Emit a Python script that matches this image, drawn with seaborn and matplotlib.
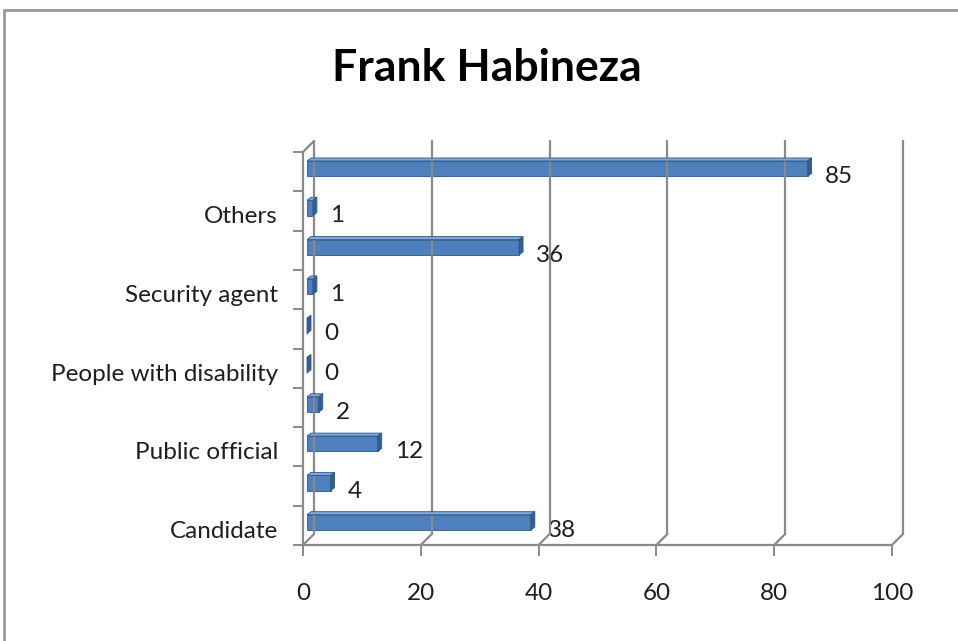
import matplotlib
matplotlib.use("Agg")
import matplotlib.pyplot as plt
from matplotlib.patches import Polygon
from matplotlib.lines import Line2D
from matplotlib.transforms import offset_copy, ScaledTranslation
import seaborn as sns
import pandas as pd

# Rows listed top to bottom; only every other row carries a visible label
labels = ["", "Others", "", "Security agent", "", "People with disability",
          "", "Public official", "", "Candidate"]
values = [85, 1, 36, 1, 0, 0, 2, 12, 4, 38]
x_ticks = [0, 20, 40, 60, 80, 100]
title = "Frank Habineza"

FONT = ["Lato", "DejaVu Sans"]
GRID = "#8a8a8a"
FRONT = "#4d80bd"
TOP = "#7fa7d9"
SIDE = "#335f96"
EDGE = "#2d5685"
TEXT = "#1f1f1f"
FS = 17.5

sns.set_theme(style="white")
plt.rcParams["font.family"] = FONT

W, H = 958, 641
fig = plt.figure(figsize=(W / 100, H / 100), dpi=100)
fig.patch.set_facecolor("white")

# front plane of the plot: value 0 at x=303px, 100 at x=892px; rows between y=152..545
ax = fig.add_axes([303 / W, 1 - 545 / H, (892 - 303) / W, (545 - 152) / H])
ax.set_facecolor("none")

df = pd.DataFrame({"row": list(range(len(values))), "value": values})
sns.barplot(data=df, x="value", y="row", orient="h", order=list(range(len(values))),
            color=FRONT, width=0.39, saturation=1, ax=ax, zorder=3)
ax.set_xlim(0, 100)
ax.set_ylim(len(values) - 0.5, -0.5)

# depth of the back wall and of each bar, in pixels
BDX, BDY = 11, 11
FDX, FDY = 4, 3
DDX, DDY = 4, 3

ax.figure.canvas.draw()
to_fig = fig.transFigure.inverted()


def px(x, y):
    return ax.transData.transform((x, y))


def fig_line(p0, p1, **kw):
    a = to_fig.transform(p0)
    b = to_fig.transform(p1)
    fig.add_artist(Line2D([a[0], b[0]], [a[1], b[1]], transform=fig.transFigure, **kw))


ybot, ytop = len(values) - 0.5, -0.5
# back wall gridlines and floor diagonals
for v in x_ticks:
    f0 = px(v, ybot)
    b0 = f0 + (BDX, BDY)
    b1 = px(v, ytop) + (BDX, BDY)
    fig_line(b0, b1, color=GRID, lw=1.6, zorder=0.5)
    fig_line(f0, b0, color=GRID, lw=1.6, zorder=0.5)
# left wall top edge
f = px(0, ytop)
fig_line(f, f + (BDX, BDY), color=GRID, lw=1.6, zorder=0.5)

# give every bar its 3D faces
front_tr = offset_copy(ax.transData, fig=fig, x=FDX, y=FDY, units="dots")
for patch in list(ax.patches):
    x0 = patch.get_x()
    w = patch.get_width()
    y0 = patch.get_y()
    h = patch.get_height()
    patch.set_transform(front_tr)
    patch.set_edgecolor(EDGE)
    patch.set_linewidth(0.6)
    tl = px(x0, y0) + (FDX, FDY)
    tr = px(x0 + w, y0) + (FDX, FDY)
    br = px(x0 + w, y0 + h) + (FDX, FDY)
    d = (DDX, DDY)
    top = [tl, tr, tr + d, tl + d]
    side = [tr, br, br + d, tr + d]
    for pts, col in ((top, TOP), (side, SIDE)):
        poly = Polygon([to_fig.transform(p) for p in pts], closed=True,
                       transform=fig.transFigure, facecolor=col,
                       edgecolor=EDGE, lw=0.6, zorder=3)
        fig.add_artist(poly)

# value labels beside the bar ends
for i, v in enumerate(values):
    ax.annotate(str(v), xy=(v, i), xytext=(21, -5), textcoords="offset pixels",
                ha="left", va="center", fontsize=FS, color=TEXT,
                family=FONT, annotation_clip=False, zorder=5)

# axes styling
for s in ("top", "right"):
    ax.spines[s].set_visible(False)
for s in ("left", "bottom"):
    ax.spines[s].set_color(GRID)
    ax.spines[s].set_linewidth(1.6)
    ax.spines[s].set_zorder(1)

ax.set_xticks(x_ticks)
ax.set_xticklabels([str(t) for t in x_ticks])
ax.set_yticks(range(len(values)))
ax.set_yticklabels(labels)
ax.set_yticks([k - 0.5 for k in range(len(values) + 1)], minor=True)
ax.tick_params(axis="y", which="major", length=0, pad=18, labelsize=FS,
               labelcolor=TEXT)
ax.tick_params(axis="y", which="minor", length=7, width=1.4, color=GRID, left=True)
ax.tick_params(axis="x", which="major", length=8, width=1.4, color=GRID, pad=19,
               labelsize=FS, labelcolor=TEXT, bottom=True)
for lbl in ax.get_yticklabels():
    lbl.set_transform(lbl.get_transform() + ScaledTranslation(0, -4 / 100, fig.dpi_scale_trans))
ax.set_xlabel("")
ax.set_ylabel("")
ax.grid(False)

# chart title
fig.text(487 / W, 1 - 68 / H, title, ha="center", va="center", fontsize=32,
         fontweight="bold", color="black", family=FONT)

# chart area frame
fig.add_artist(Line2D([4 / W, 1.0], [1 - 10 / H, 1 - 10 / H], transform=fig.transFigure,
                      color="#9a9a9a", lw=2))
fig.add_artist(Line2D([4 / W, 4 / W], [0, 1 - 10 / H], transform=fig.transFigure,
                      color="#9a9a9a", lw=2))

fig.savefig("out.png", dpi=100, facecolor="white")
